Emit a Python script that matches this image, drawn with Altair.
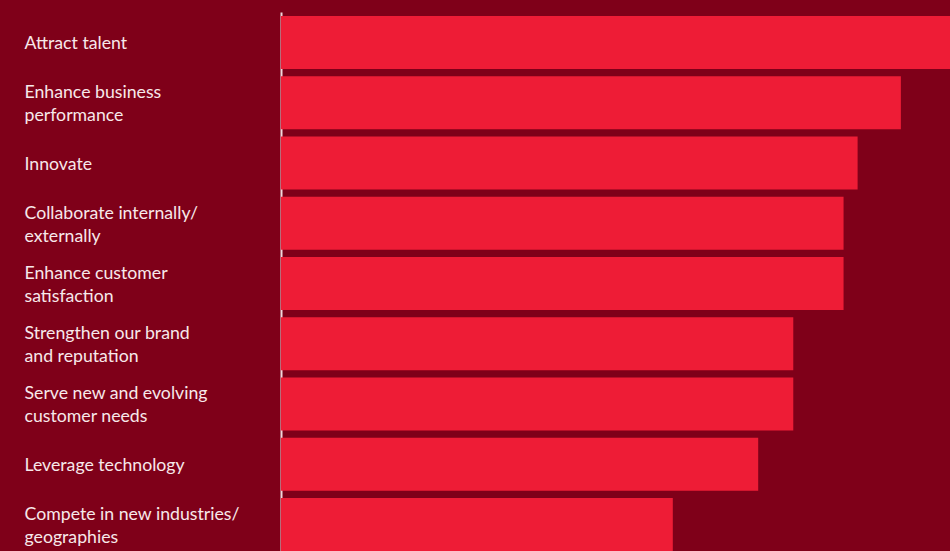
import altair as alt
import pandas as pd

categories = [
    "Attract talent",
    "Enhance business|performance",
    "Innovate",
    "Collaborate internally/|externally",
    "Enhance customer|satisfaction",
    "Strengthen our brand|and reputation",
    "Serve new and evolving|customer needs",
    "Leverage technology",
    "Compete in new industries/|geographies",
]
values = [57.2, 53.0, 49.3, 48.1, 48.1, 43.8, 43.8, 40.8, 33.5]

df = pd.DataFrame({"category": categories, "value": values})

chart = (
    alt.Chart(df)
    .mark_bar(color="#ee1c36", clip=True)
    .encode(
        x=alt.X("value:Q", axis=None, scale=alt.Scale(domain=[0, 57.2], nice=False, zero=True)),
        y=alt.Y(
            "category:N",
            sort=categories,
            title=None,
            scale=alt.Scale(paddingInner=0.12, paddingOuter=0.033, align=1),
            axis=alt.Axis(
                labelExpr="split(datum.value, '|')",
                labelAlign="left",
                labelBaseline="middle",
                labelPadding=257,
                labelOffset={"condition": {"test": "indexof(datum.value, '|') >= 0", "value": -9.5}, "value": 2},
                labelColor="#f7e8ea",
                labelFont="Lato",
                labelFontSize=17.7,
                labelLineHeight=23,
                labelLimit=400,
                ticks=False,
                grid=False,
                domainColor="#f0d8dc",
                domainWidth=2,
            ),
        ),
    )
    .properties(
        width=669,
        height=539,
        background="#7f0019",
        padding={"left": 281, "top": 12, "right": 0, "bottom": 0},
        autosize=alt.AutoSizeParams(type="none"),
    )
    .configure_view(stroke=None)
)

chart.save("out.html", embed_options={"renderer": "svg", "actions": False})
